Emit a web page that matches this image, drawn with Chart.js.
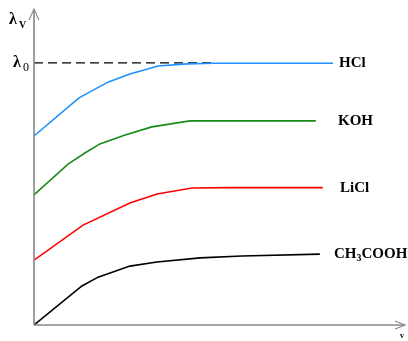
<!DOCTYPE html>
<html>
<head>
<meta charset="utf-8">
<script src="https://cdn.jsdelivr.net/npm/chart.js@4/dist/chart.umd.min.js"></script>
<style>
  html, body { margin: 0; padding: 0; background: #fff; }
  #wrap { width: 408px; height: 341px; }
</style>
</head>
<body>
<div id="wrap"><canvas id="c" width="408" height="341"></canvas></div>
<script>
// Equivalent conductance λv versus dilution v (arbitrary units)
const seriesNames = ['HCl', 'KOH', 'LiCl', 'CH₃COOH'];

const hclV    = [0, 12.3, 20.2, 26.2, 33.9, 41.8, 48.9, 81.7];
const hclLam  = [60, 72.1, 77.1, 79.7, 82.2, 82.9, 83.1, 83.1];

const kohV    = [0, 9.3, 13.9, 18.0, 24.9, 32.2, 42.6, 77.0];
const kohLam  = [41.3, 51.1, 54.6, 57.5, 60.3, 62.9, 64.8, 64.8];

const liclV   = [0, 13.4, 26.2, 33.6, 43.2, 53.6, 78.9];
const liclLam = [20.6, 31.7, 38.7, 41.6, 43.5, 43.6, 43.6];

const acV     = [0, 13.1, 17.5, 26.2, 33.6, 45.4, 56.8, 78.1];
const acLam   = [0, 12.4, 15.2, 18.7, 20.0, 21.3, 21.9, 22.5];

// limiting conductance λ0 and the range of the dashed guide
const lambda0 = 83.2;
const guideV  = [0, 48.9];

const toPoints = (xs, ys) => xs.map((x, i) => ({ x: x, y: ys[i] }));

const colors = ['#1e90ff', '#1a8a1a', '#ff0000', '#000000'];
const seriesData = [
  toPoints(hclV, hclLam),
  toPoints(kohV, kohLam),
  toPoints(liclV, liclLam),
  toPoints(acV, acLam)
];

const datasets = seriesData.map((pts, i) => ({
  label: seriesNames[i],
  data: pts,
  borderColor: colors[i],
  borderWidth: 1.6,
  pointRadius: 0,
  showLine: true,
  fill: false,
  tension: 0,
  order: 1
}));
datasets.push({
  label: 'λ0',
  data: guideV.map(v => ({ x: v, y: lambda0 })),
  borderColor: '#000',
  borderWidth: 1.2,
  borderDash: [9, 5],
  pointRadius: 0,
  showLine: true,
  fill: false,
  order: 2
});

// label pixel x for each series name
const labelX = [339, 338, 340, 334];

const decor = {
  id: 'decor',
  afterDatasetsDraw(chart) {
    const ctx = chart.ctx;
    const a = chart.chartArea;
    const ys = chart.scales.y;
    ctx.save();
    // axes
    ctx.strokeStyle = '#888';
    ctx.lineWidth = 1.6;
    ctx.beginPath();
    ctx.moveTo(a.left, a.bottom);
    ctx.lineTo(a.left, a.top - 1);
    ctx.moveTo(a.left, a.bottom);
    ctx.lineTo(a.right + 5, a.bottom);
    ctx.stroke();
    ctx.lineWidth = 1.1;
    ctx.beginPath();
    ctx.moveTo(a.left - 5, a.top + 10);
    ctx.lineTo(a.left, a.top - 1);
    ctx.lineTo(a.left + 5, a.top + 10);
    ctx.moveTo(a.right - 5, a.bottom - 4);
    ctx.lineTo(a.right + 5, a.bottom);
    ctx.lineTo(a.right - 5, a.bottom + 4);
    ctx.stroke();

    // series names at the end of each curve
    ctx.fillStyle = '#000';
    ctx.textBaseline = 'middle';
    ctx.textAlign = 'left';
    seriesData.forEach((pts, i) => {
      const y = ys.getPixelForValue(pts[pts.length - 1].y);
      const x = labelX[i];
      ctx.font = 'bold 15px "Liberation Serif", "Times New Roman", serif';
      if (i === 3) {
        let cx = x;
        ctx.fillText('CH', cx, y);
        cx += ctx.measureText('CH').width;
        ctx.font = 'bold 10px "Liberation Serif", serif';
        ctx.fillText('3', cx, y + 4);
        cx += ctx.measureText('3').width;
        ctx.font = 'bold 15px "Liberation Serif", "Times New Roman", serif';
        ctx.fillText('COOH', cx, y);
      } else {
        ctx.fillText(seriesNames[i], x, y);
      }
    });

    // axis titles
    ctx.font = 'bold 16px "Liberation Serif", serif';
    ctx.fillText('λ', 9, 20);
    ctx.font = 'bold 10px "Liberation Serif", serif';
    ctx.fillText('V', 19, 25);

    const l0y = ys.getPixelForValue(lambda0);
    ctx.font = 'bold 16px "Liberation Serif", serif';
    ctx.fillText('λ', 13, l0y);
    ctx.font = '12px "Liberation Serif", serif';
    ctx.fillText('0', 23, l0y + 5);

    ctx.font = 'bold 8px "Liberation Serif", serif';
    ctx.fillText('v', a.right, a.bottom + 11);
    ctx.restore();
  }
};

new Chart(document.getElementById('c'), {
  type: 'scatter',
  data: { datasets: datasets },
  options: {
    responsive: false,
    animation: false,
    layout: { padding: { left: 34, right: 8, top: 10, bottom: 16 } },
    plugins: { legend: { display: false }, tooltip: { enabled: false } },
    scales: {
      x: { type: 'linear', min: 0, max: 100, display: false },
      y: { type: 'linear', min: 0, max: 100, display: false }
    }
  },
  plugins: [decor]
});
</script>
</body>
</html>
